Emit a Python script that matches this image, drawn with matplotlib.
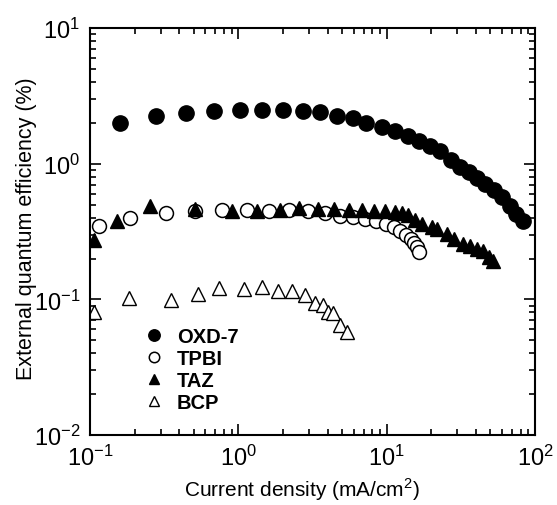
import numpy as np
import matplotlib.pyplot as plt

plt.rcParams['font.family'] = ['Liberation Sans', 'DejaVu Sans']
plt.rcParams['mathtext.fontset'] = 'custom'
plt.rcParams['mathtext.rm'] = 'Liberation Sans'

# EQE vs current density for each electron transport layer
oxd7_j = [0.159, 0.279, 0.443, 0.685, 1.02, 1.44, 1.99, 2.72, 3.56, 4.65, 5.91, 7.26,
          9.31, 11.3, 13.9, 16.6, 19.6, 22.9, 27.1, 31.3, 35.8, 40.9, 46.3, 53.0,
          60.0, 67.9, 74.6, 82.7]
oxd7_eqe = [2.01, 2.23, 2.36, 2.45, 2.50, 2.50, 2.48, 2.44, 2.39, 2.23, 2.16, 2.01,
            1.87, 1.73, 1.59, 1.47, 1.36, 1.24, 1.06, 0.949, 0.863, 0.78, 0.708, 0.636,
            0.565, 0.49, 0.425, 0.376]

tpbi_j = [0.115, 0.186, 0.325, 0.511, 0.773, 1.14, 1.62, 2.21, 2.96, 3.84, 4.85, 5.91,
          7.15, 8.49, 9.9, 11.2, 12.3, 13.5, 14.5, 15.3, 16.0, 16.6]
tpbi_eqe = [0.345, 0.397, 0.43, 0.45, 0.455, 0.455, 0.45, 0.455, 0.445, 0.43, 0.409, 0.402,
            0.391, 0.376, 0.359, 0.339, 0.32, 0.299, 0.278, 0.26, 0.242, 0.224]

taz_j = [0.106, 0.153, 0.254, 0.511, 0.902, 1.34, 1.91, 2.57, 3.46, 4.42, 5.58, 6.83,
         8.22, 9.75, 11.3, 12.6, 14.0, 15.6, 17.3, 20.1, 21.8, 25.4, 28.5, 32.9,
         36.5, 40.5, 44.9, 49.3, 52.4]
taz_eqe = [0.275, 0.38, 0.485, 0.463, 0.45, 0.45, 0.455, 0.469, 0.463, 0.466, 0.458, 0.452,
           0.448, 0.445, 0.438, 0.43, 0.418, 0.386, 0.359, 0.339, 0.33, 0.303, 0.278, 0.256,
           0.248, 0.235, 0.229, 0.204, 0.192]

bcp_j = [0.106, 0.184, 0.350, 0.537, 0.745, 1.09, 1.44, 1.86, 2.29, 2.82, 3.29, 3.74,
         4.04, 4.37, 4.85, 5.38]
bcp_eqe = [0.080, 0.103, 0.0994, 0.109, 0.121, 0.119, 0.123, 0.115, 0.115, 0.108, 0.094,
           0.0913, 0.080, 0.0788, 0.065, 0.0571]

fig = plt.figure(figsize=(5.57, 5.06), dpi=100)
ax = fig.add_axes([0.1616, 0.1383, 0.7989, 0.8044])

ax.plot(oxd7_j, oxd7_eqe, 'o', ms=11, mfc='black', mec='black', label='OXD-7')
ax.plot(tpbi_j, tpbi_eqe, 'o', ms=10, mfc='white', mec='black', mew=1.1, label='TPBI')
ax.plot(taz_j, taz_eqe, '^', ms=10.5, mfc='black', mec='black', label='TAZ')
ax.plot(bcp_j, bcp_eqe, '^', ms=10, mfc='white', mec='black', mew=1.0, label='BCP')

ax.set_xscale('log')
ax.set_yscale('log')
ax.set_xlim(0.1, 100)
ax.set_ylim(0.01, 10)

ax.tick_params(which='both', direction='in', top=True, right=True, width=1.2)
ax.tick_params(which='major', length=8, labelsize=17, pad=7)
ax.tick_params(which='minor', length=4.5)
for s in ax.spines.values():
    s.set_linewidth(1.5)

ax.set_xlabel('Current density (mA/cm$^2$)', fontsize=15)
ax.set_ylabel('External quantum efficiency (%)', fontsize=15.5)
ax.xaxis.set_label_coords(0.476, -0.098)
ax.yaxis.set_label_coords(-0.12, 0.51)

ax.legend(loc='upper left', bbox_to_anchor=(0.082, 0.31), frameon=False,
          markerscale=0.75, handlelength=0.9, handletextpad=0.7, labelspacing=0.15,
          prop={'weight': 'bold', 'size': 14.5})

fig.savefig('out.png', dpi=100)
